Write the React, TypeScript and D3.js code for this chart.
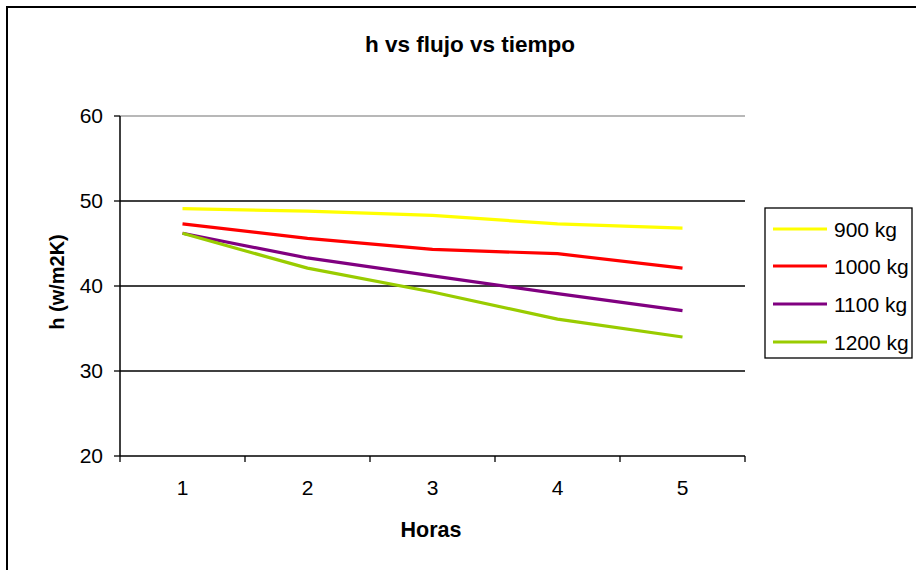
import React from "react";
import * as d3 from "d3";

const categories = ["1", "2", "3", "4", "5"];
const yTicks = [20, 30, 40, 50, 60];
const seriesNames = ["900 kg", "1000 kg", "1100 kg", "1200 kg"];
const seriesColors = ["#FFFF00", "#FF0000", "#800080", "#99CC00"];
const s900 = [49.1, 48.8, 48.3, 47.3, 46.8];
const s1000 = [47.3, 45.6, 44.3, 43.8, 42.1];
const s1100 = [46.2, 43.3, 41.2, 39.1, 37.1];
const s1200 = [46.2, 42.1, 39.3, 36.1, 34.0];
const seriesValues = [s900, s1000, s1100, s1200];

const W = 916, H = 570;
const plot = { left: 120, right: 745, top: 116, bottom: 456 };

export default function App() {
  const x = d3.scaleBand().domain(categories).range([plot.left, plot.right]);
  const y = d3.scaleLinear().domain([20, 60]).range([plot.bottom, plot.top]);
  const line = d3
    .line<number>()
    .x((_, i) => (x(categories[i]) as number) + x.bandwidth() / 2)
    .y((d) => y(d));
  const font = "'Liberation Sans', Arial, sans-serif";
  const legendRows = [229, 266, 304, 342];
  const xTickPositions = categories.map((c) => x(c) as number).concat([plot.right]);

  return (
    <svg
      width={W}
      height={H}
      style={{ position: "fixed", left: 0, top: 0, background: "#fff" }}
      fontFamily={font}
    >
      <rect x={0} y={0} width={W} height={H} fill="#fff" />
      <path d={`M7,${H + 5} L7,7 L${W + 5},7`} fill="none" stroke="#000" strokeWidth={2} />
      <text x={470} y={52} textAnchor="middle" fontSize={22.5} fontWeight="bold">
        h vs flujo vs tiempo
      </text>

      {yTicks.map((t) => (
        <g key={t}>
          {t > 20 && (
            <line
              x1={plot.left}
              x2={plot.right}
              y1={y(t)}
              y2={y(t)}
              stroke={t === 60 ? "#a0a0a0" : "#000"}
              strokeWidth={t === 60 ? 1.5 : 1.3}
            />
          )}
          <line x1={plot.left - 6} x2={plot.left} y1={y(t)} y2={y(t)} stroke="#000" strokeWidth={1.3} />
          <text x={103} y={y(t) + 7} textAnchor="end" fontSize={21}>
            {t}
          </text>
        </g>
      ))}
      <line x1={plot.left} x2={plot.left} y1={plot.top} y2={plot.bottom} stroke="#000" strokeWidth={1.5} />
      <line x1={plot.left} x2={plot.right} y1={plot.bottom} y2={plot.bottom} stroke="#000" strokeWidth={1.5} />
      {xTickPositions.map((p, i) => (
        <line key={i} x1={p} x2={p} y1={plot.bottom} y2={plot.bottom + 6} stroke="#000" strokeWidth={1.3} />
      ))}
      {categories.map((c) => (
        <text key={c} x={(x(c) as number) + x.bandwidth() / 2} y={495} textAnchor="middle" fontSize={21}>
          {c}
        </text>
      ))}

      {seriesValues.map((vals, i) => (
        <path key={i} d={line(vals) || ""} fill="none" stroke={seriesColors[i]} strokeWidth={3.2} strokeLinejoin="round" />
      ))}

      <text x={431} y={537} textAnchor="middle" fontSize={21.5} fontWeight="bold">
        Horas
      </text>
      <text
        transform={`translate(64,282) rotate(-90)`}
        textAnchor="middle"
        fontSize={20}
        fontWeight="bold"
      >
        h (w/m2K)
      </text>

      <rect x={765} y={208} width={147} height={150} fill="#fff" stroke="#000" strokeWidth={1.3} />
      {seriesNames.map((n, i) => (
        <g key={n}>
          <line x1={773} x2={827} y1={legendRows[i]} y2={legendRows[i]} stroke={seriesColors[i]} strokeWidth={3.2} />
          <text x={834} y={legendRows[i] + 8} fontSize={21}>
            {n}
          </text>
        </g>
      ))}
    </svg>
  );
}
